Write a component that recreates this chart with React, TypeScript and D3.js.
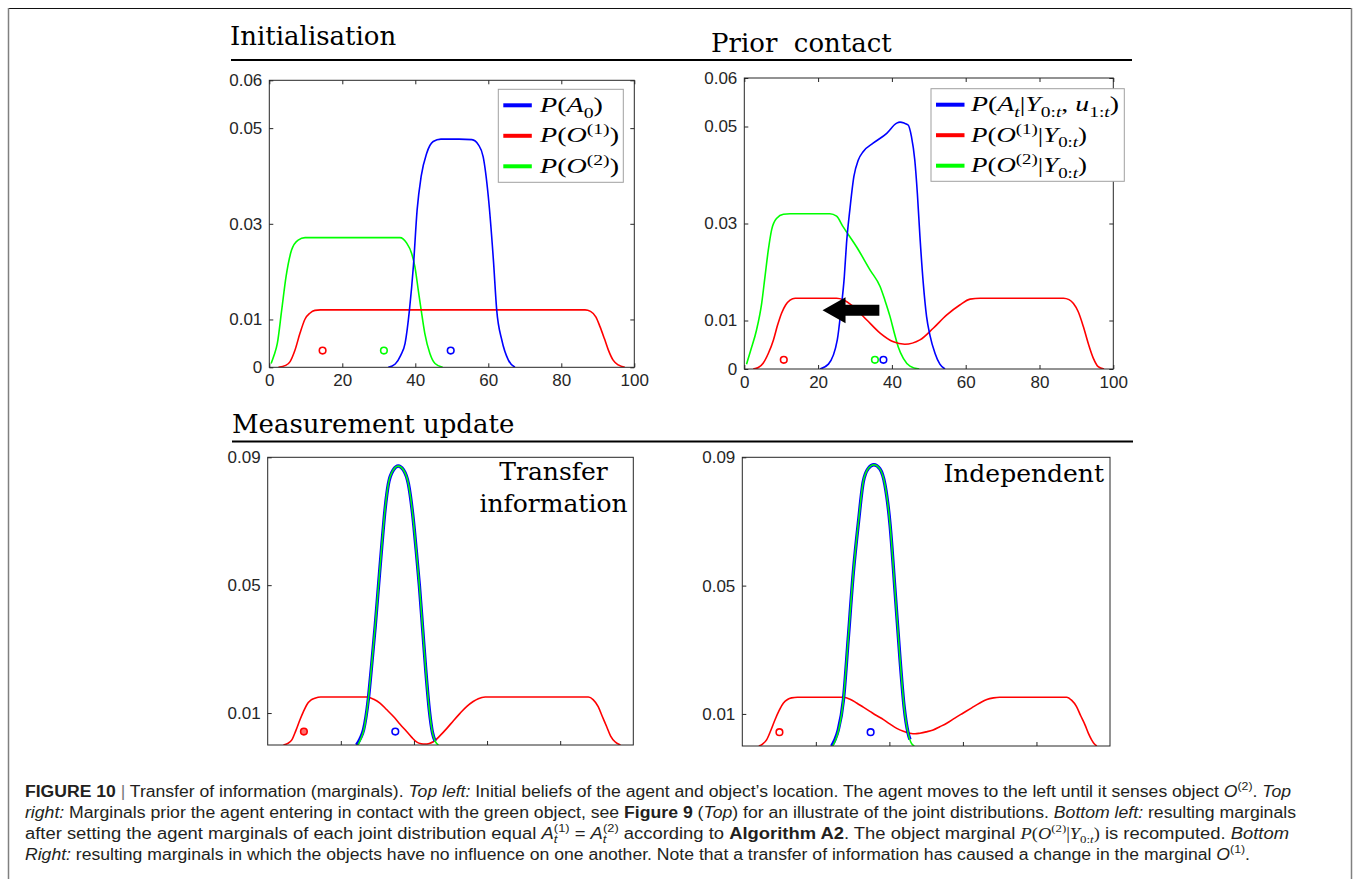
import React, { useEffect, useRef } from "react";
import * as d3 from "d3";

type Pt = [number, number];

// Initialisation (top left)
const initAgent: Pt[] = [[32.6, 0], [34.5, 0.0007], [36, 0.0025], [37.2, 0.005], [38.4, 0.012], [39.5, 0.0214], [40.5, 0.0329], [41.6, 0.0399], [43.1, 0.0447], [44.9, 0.0472], [47, 0.0477], [52, 0.0477], [55.5, 0.0476], [57.3, 0.0465], [58.6, 0.044], [60, 0.0357], [61.4, 0.0224], [62.3, 0.012], [63.7, 0.0057], [65.5, 0.0015], [67.3, 0]];
const initObj1: Pt[] = [[2.5, 0], [4.5, 0.0004], [5.7, 0.0012], [7, 0.0035], [8.4, 0.0071], [9.8, 0.0101], [11.1, 0.0113], [12.5, 0.0119], [14, 0.012], [50, 0.012], [86.5, 0.012], [88, 0.0117], [89.5, 0.0105], [90.6, 0.0085], [91.8, 0.006], [92.9, 0.0036], [94.2, 0.0015], [95.6, 0.0005], [97.4, 0]];
const initObj2: Pt[] = [[0.5, 0.0008], [1.3, 0.0025], [2.2, 0.005], [3.4, 0.012], [4.6, 0.019], [6.1, 0.0245], [7.9, 0.0266], [9.8, 0.0271], [20, 0.0271], [35.8, 0.0271], [37.6, 0.026], [39, 0.0238], [39.9, 0.021], [40.8, 0.0162], [41.6, 0.012], [42.6, 0.0071], [44, 0.0029], [45.4, 0.0008], [47.5, 0]];
const initMarkers: Pt[] = [[14.6, 0.0035], [31.4, 0.0035], [49.7, 0.0035]];

// Prior contact (top right)
const priorAgent: Pt[] = [[20.5, 0], [22.8, 0.001], [25.2, 0.006], [26.2, 0.0122], [27.1, 0.019], [27.7, 0.0259], [28.6, 0.0328], [29.7, 0.0397], [30.9, 0.0431], [32.2, 0.0448], [35, 0.0466], [38.6, 0.0486], [41.3, 0.0507], [42.2, 0.0509], [43.3, 0.0507], [44.4, 0.0503], [45.3, 0.0479], [46.2, 0.0431], [46.9, 0.0362], [47.6, 0.0273], [48.5, 0.0177], [49.4, 0.0108], [50.3, 0.007], [51.7, 0.0032], [53, 0.001], [54.4, 0]];
const priorObj1: Pt[] = [[2.4, 0], [3.8, 0.0003], [5.1, 0.0012], [6.5, 0.0032], [7.9, 0.006], [9, 0.009], [10.1, 0.0115], [11.2, 0.0132], [12.4, 0.0142], [13.8, 0.0146], [25, 0.0146], [26.8, 0.0143], [29.5, 0.0129], [33.2, 0.0101], [36.8, 0.0074], [40.4, 0.0056], [43.5, 0.0051], [47.6, 0.006], [51.2, 0.0084], [54.8, 0.0111], [58.4, 0.0132], [61.2, 0.0144], [63.9, 0.0146], [86.5, 0.0146], [88, 0.0143], [89.2, 0.0135], [90.5, 0.0118], [91.9, 0.0087], [93.2, 0.0053], [94.6, 0.0022], [95.9, 0.0005], [97.5, 0]];
const priorObj2: Pt[] = [[0.6, 0.001], [1.8, 0.004], [3.3, 0.008], [4.7, 0.0135], [5.6, 0.019], [6.5, 0.0245], [7.4, 0.0287], [8.8, 0.0311], [10.6, 0.0319], [12.4, 0.032], [23.2, 0.032], [25, 0.0315], [26.8, 0.0293], [30.4, 0.0252], [34.1, 0.0204], [36.8, 0.017], [38.1, 0.0142], [39.5, 0.0108], [40.8, 0.007], [41.7, 0.0046], [43.1, 0.0022], [44.9, 0.0006], [47.4, 0]];
const priorMarkers: Pt[] = [[10.7, 0.0019], [35.4, 0.0019], [37.7, 0.0019]];
const arrowTail: Pt = [36.6, 0.0121];
const arrowTip: Pt = [21.2, 0.0121];

// Measurement update, transfer information (bottom left)
const transferAgent: Pt[] = [[24.3, 0], [25.3, 0.002], [26.2, 0.0047], [27.5, 0.0141], [28.4, 0.0246], [29.4, 0.0371], [30.3, 0.0497], [31.2, 0.0622], [32.1, 0.0737], [33, 0.0816], [34.4, 0.0861], [35.7, 0.0873], [37.1, 0.0861], [38.5, 0.0816], [39.7, 0.0717], [40.6, 0.0612], [41.5, 0.0497], [42.4, 0.0361], [43.3, 0.0225], [44.2, 0.011], [45.1, 0.0037], [45.8, 0.0012]];
const transferObj2: Pt[] = [[24.7, 0], [25.5, 0.002], [26.3, 0.0047], [27.5, 0.0141], [28.4, 0.0246], [29.4, 0.0371], [30.3, 0.0497], [31.2, 0.0622], [32.1, 0.0737], [33, 0.0816], [34.4, 0.0861], [35.7, 0.0873], [37.1, 0.0861], [38.5, 0.0816], [39.7, 0.0717], [40.6, 0.0612], [41.5, 0.0497], [42.4, 0.0361], [43.3, 0.0225], [44.2, 0.011], [45.1, 0.0037], [45.8, 0.0012], [46.7, 0]];
const transferObj1: Pt[] = [[4.3, 0], [5.5, 0.0005], [6.6, 0.0016], [7.7, 0.0045], [8.8, 0.0078], [9.8, 0.0105], [10.7, 0.0126], [11.8, 0.014], [12.9, 0.0146], [14.5, 0.015], [27.1, 0.015], [29, 0.0143], [30.7, 0.0131], [32.5, 0.0111], [34.4, 0.0089], [36.2, 0.0065], [38, 0.0042], [39.4, 0.0024], [40.7, 0.001], [42, 0.0004], [43, 0.0003], [44.2, 0.0005], [45.3, 0.001], [47.2, 0.003], [49, 0.0052], [50.8, 0.0076], [52.6, 0.0099], [54.4, 0.012], [56.2, 0.0136], [57.6, 0.0145], [59.5, 0.015], [87.7, 0.015], [89, 0.0142], [90.4, 0.012], [91.5, 0.009], [92.7, 0.0058], [93.8, 0.0028], [95, 0.001], [96.5, 0]];
const transferMarkers: Pt[] = [[9.9, 0.0042], [34.9, 0.0042]];

// Measurement update, independent (bottom right)
const indepAgent: Pt[] = [[24.3, 0], [25.2, 0.002], [26.1, 0.005], [27.5, 0.0144], [28.8, 0.0333], [30.2, 0.0542], [31.6, 0.0699], [32.9, 0.0824], [34.3, 0.0866], [35.8, 0.0877], [37.4, 0.0864], [38.8, 0.0814], [40.2, 0.0688], [41.5, 0.049], [42.9, 0.027], [44, 0.0123], [45.1, 0.004], [45.6, 0.002]];
const indepObj2: Pt[] = [[24.6, 0], [25.4, 0.002], [26.2, 0.005], [27.5, 0.0144], [28.8, 0.0333], [30.2, 0.0542], [31.6, 0.0699], [32.9, 0.0824], [34.3, 0.0866], [35.8, 0.0877], [37.4, 0.0864], [38.8, 0.0814], [40.2, 0.0688], [41.5, 0.049], [42.9, 0.027], [44, 0.0123], [45.1, 0.004], [46, 0.0008], [46.8, 0]];
const indepObj1: Pt[] = [[4.5, 0], [5.5, 0.0006], [6.6, 0.0019], [7.8, 0.005], [8.9, 0.0082], [10, 0.011], [11.2, 0.0134], [12.3, 0.0145], [13.4, 0.015], [15, 0.0152], [27.5, 0.0152], [29.3, 0.0146], [31.1, 0.0134], [32.9, 0.0121], [34.7, 0.0108], [36.5, 0.0095], [38.4, 0.0082], [40.2, 0.0068], [42, 0.0055], [43.8, 0.0046], [45.6, 0.004], [47, 0.0038], [48.3, 0.004], [50, 0.0044], [51.9, 0.005], [53.7, 0.006], [55.6, 0.0071], [57.8, 0.0087], [60.1, 0.0103], [62.4, 0.0119], [64.6, 0.0134], [66.5, 0.0145], [68.3, 0.015], [70, 0.0152], [88.2, 0.0152], [89.6, 0.0142], [90.9, 0.0123], [92, 0.0095], [93.2, 0.0066], [94.1, 0.004], [95, 0.0019], [95.7, 0.0007], [96.4, 0]];
const indepMarkers: Pt[] = [[10.1, 0.0043], [34.9, 0.0043]];

const xTicks = [0, 20, 40, 60, 80, 100];
const innerXTicks = [20, 40, 60, 80];
const topYTicks = [0, 0.01, 0.03, 0.05, 0.06];
const bottomYTicks = [0.01, 0.05, 0.09];

const BLUE = "#0000ff";
const RED = "#ff0000";
const GREEN = "#00ff00";
const AXIS = "#262626";
const SANS = "'Liberation Sans', Arial, Helvetica, sans-serif";
const TITLE = "'DejaVu Serif', serif";
const MATH = "'Liberation Serif', 'Times New Roman', serif";

type Seg = { t: string; i?: boolean; b?: boolean; s?: "sub" | "sup"; f?: string; dx?: number; c?: string };

// appends tspans to a text element, handling sub/superscripts with dy
function rich(text: any, segs: Seg[], size: number, supK = 0.42) {
  let shift = 0;
  segs.forEach((seg) => {
    const ts = text.append("tspan").text(seg.t);
    const target = seg.s === "sub" ? size * 0.26 : seg.s === "sup" ? -size * supK : 0;
    if (target - shift !== 0) ts.attr("dy", target - shift);
    shift = target;
    if (seg.s) ts.attr("font-size", size * 0.7);
    if (seg.i) ts.attr("font-style", "italic");
    if (seg.b) ts.attr("font-weight", "bold");
    if (seg.f) ts.attr("font-family", seg.f);
    if (seg.dx) ts.attr("dx", seg.dx);
    if (seg.c) ts.attr("fill", seg.c);
  });
}

const legendInit: Seg[][] = [
  [{ t: "P", i: true }, { t: "(" }, { t: "A", i: true }, { t: "0", s: "sub" }, { t: ")" }],
  [{ t: "P", i: true }, { t: "(" }, { t: "O", i: true }, { t: "(1)", s: "sup" }, { t: ")" }],
  [{ t: "P", i: true }, { t: "(" }, { t: "O", i: true }, { t: "(2)", s: "sup" }, { t: ")" }],
];
const legendPrior: Seg[][] = [
  [{ t: "P", i: true }, { t: "(" }, { t: "A", i: true }, { t: "t", i: true, s: "sub" }, { t: "|" }, { t: "Y", i: true }, { t: "0:", s: "sub" }, { t: "t", i: true, s: "sub" }, { t: ", " }, { t: "u", i: true }, { t: "1:", s: "sub" }, { t: "t", i: true, s: "sub" }, { t: ")" }],
  [{ t: "P", i: true }, { t: "(" }, { t: "O", i: true }, { t: "(1)", s: "sup" }, { t: "|" }, { t: "Y", i: true }, { t: "0:", s: "sub" }, { t: "t", i: true, s: "sub" }, { t: ")" }],
  [{ t: "P", i: true }, { t: "(" }, { t: "O", i: true }, { t: "(2)", s: "sup" }, { t: "|" }, { t: "Y", i: true }, { t: "0:", s: "sub" }, { t: "t", i: true, s: "sub" }, { t: ")" }],
];

const captionLines: Seg[][] = [
  [{ t: "FIGURE 10", b: true }, { t: " | ", c: "#777" }, { t: "Transfer of information (marginals). " }, { t: "Top left:", i: true }, { t: " Initial beliefs of the agent and object\u2019s location. The agent moves to the left until it senses object " }, { t: "O", i: true }, { t: "(2)", s: "sup" }, { t: ". " }, { t: "Top", i: true }],
  [{ t: "right:", i: true }, { t: " Marginals prior the agent entering in contact with the green object, see " }, { t: "Figure 9", b: true }, { t: " (" }, { t: "Top", i: true }, { t: ") for an illustrate of the joint distributions. " }, { t: "Bottom left:", i: true }, { t: " resulting marginals" }],
  [{ t: "after setting the agent marginals of each joint distribution equal " }, { t: "A", i: true }, { t: "t", i: true, s: "sub" }, { t: "(1)", s: "sup", dx: -3 }, { t: " = " }, { t: "A", i: true }, { t: "t", i: true, s: "sub" }, { t: "(2)", s: "sup", dx: -3 }, { t: " according to " }, { t: "Algorithm A2", b: true }, { t: ". The object marginal " }, { t: "P", i: true, f: MATH }, { t: "(", f: MATH }, { t: "O", i: true, f: MATH }, { t: "(2)", s: "sup", f: MATH }, { t: "|", f: MATH }, { t: "Y", i: true, f: MATH }, { t: "0:", s: "sub", f: MATH }, { t: "t", i: true, s: "sub", f: MATH }, { t: ")", f: MATH }, { t: " is recomputed. " }, { t: "Bottom", i: true }],
  [{ t: "Right:", i: true }, { t: " resulting marginals in which the objects have no influence on one another. Note that a transfer of information has caused a change in the marginal " }, { t: "O", i: true }, { t: "(1)", s: "sup" }, { t: "." }],
];
const captionWidths = [1266, 1271, 1264, 1225];

function drawPanel(svg: any, p: any) {
  const x = d3.scaleLinear().domain([0, 100]).range([p.left, p.right]);
  const y = d3.scaleLinear().domain([0, p.yMax]).range([p.bottom, p.top]);
  const g = svg.append("g");

  g.append("clipPath").attr("id", "clip-" + p.id).append("rect")
    .attr("x", p.left).attr("y", p.top).attr("width", p.right - p.left).attr("height", p.bottom - p.top);

  const line = d3.line<Pt>().x((d) => x(d[0])).y((d) => y(d[1])).curve(d3.curveMonotoneX);
  const lines = g.append("g").attr("clip-path", `url(#clip-${p.id})`);
  p.series.forEach((s: any) => {
    lines.append("path").attr("d", line(s.data)).attr("fill", "none")
      .attr("stroke", s.color).attr("stroke-width", s.w).attr("stroke-linejoin", "round");
  });

  p.markers.forEach((m: Pt, i: number) => {
    g.append("circle").attr("cx", x(m[0])).attr("cy", y(m[1])).attr("r", 3.3)
      .attr("fill", p.markerFill ? p.markerFill[i] : "none")
      .attr("stroke", p.markerColors[i]).attr("stroke-width", 1.6);
  });

  if (p.arrow) {
    const ax0 = x(p.arrow[0][0]), ax1 = x(p.arrow[1][0]), ay = y(p.arrow[1][1]);
    const hl = 23, sh = 5.5, hh = 13;
    const pts = [[ax1, ay], [ax1 + hl, ay - hh], [ax1 + hl, ay - sh], [ax0, ay - sh], [ax0, ay + sh], [ax1 + hl, ay + sh], [ax1 + hl, ay + hh]];
    g.append("polygon").attr("points", pts.map((q) => q.join(",")).join(" ")).attr("fill", "black");
  }

  g.append("rect").attr("x", p.left).attr("y", p.top).attr("width", p.right - p.left).attr("height", p.bottom - p.top)
    .attr("fill", "none").attr("stroke", AXIS).attr("stroke-width", 1);

  const styleAxis = (a: any) => {
    a.select(".domain").remove();
    a.attr("font-size", 17).attr("font-family", SANS);
    a.selectAll("line").attr("stroke", AXIS);
    a.selectAll("text").attr("fill", AXIS);
  };

  const gy = g.append("g").attr("transform", `translate(${p.left},0)`)
    .call(d3.axisLeft(y).tickValues(p.yTicks).tickSize(-4).tickPadding(7).tickFormat((d: any) => String(d)));
  styleAxis(gy);

  const gx = g.append("g").attr("transform", `translate(0,${p.bottom})`)
    .call(d3.axisBottom(x).tickValues(p.xLabels ? xTicks : innerXTicks).tickSize(-4).tickPadding(7)
      .tickFormat((d: any) => (p.xLabels ? String(d) : "")));
  styleAxis(gx);

  if (p.mirror) {
    const gr = g.append("g").attr("transform", `translate(${p.right},0)`)
      .call(d3.axisRight(y).tickValues(p.yTicks).tickSize(-4).tickFormat(() => ""));
    styleAxis(gr);
    const gt = g.append("g").attr("transform", `translate(0,${p.top})`)
      .call(d3.axisTop(x).tickValues(xTicks).tickSize(-4).tickFormat(() => ""));
    styleAxis(gt);
  }

  if (p.legend) {
    const L = p.legend;
    g.append("rect").attr("x", L.x).attr("y", L.y).attr("width", L.w).attr("height", L.h)
      .attr("fill", "white").attr("stroke", "#a0a0a0").attr("stroke-width", 1);
    L.rows.forEach((segs: Seg[], i: number) => {
      const ly = L.y + 16 + i * 30.5;
      g.append("line").attr("x1", L.x + 5).attr("x2", L.x + 33.5).attr("y1", ly).attr("y2", ly)
        .attr("stroke", L.colors[i]).attr("stroke-width", 4);
      const t = g.append("text").attr("x", L.textX).attr("y", ly + 6.5)
        .attr("font-family", MATH).attr("font-size", 22).attr("fill", "black")
        .attr("textLength", L.widths[i]).attr("lengthAdjust", "spacingAndGlyphs");
      rich(t, segs, 22, 0.36);
    });
  }

  if (p.note) {
    p.note.lines.forEach((s: string, i: number) => {
      g.append("text").attr("x", p.note.x).attr("y", p.note.y + i * 31.5)
        .attr("text-anchor", p.note.anchor).attr("font-family", TITLE).attr("font-size", 25)
        .attr("fill", "black").text(s);
    });
  }
}

export default function App() {
  const ref = useRef<SVGSVGElement>(null);

  useEffect(() => {
    const svg = d3.select(ref.current);
    svg.selectAll("*").remove();

    svg.append("rect").attr("width", 1354).attr("height", 879).attr("fill", "white");

    // page frame
    svg.append("line").attr("x1", 8).attr("x2", 1352).attr("y1", 8.5).attr("y2", 8.5).attr("stroke", "#111").attr("stroke-width", 1);
    svg.append("line").attr("x1", 8.5).attr("x2", 8.5).attr("y1", 8).attr("y2", 879).attr("stroke", "#808080").attr("stroke-width", 1.5);
    svg.append("line").attr("x1", 1351.5).attr("x2", 1351.5).attr("y1", 8).attr("y2", 879).attr("stroke", "#808080").attr("stroke-width", 1.5);

    // section titles and rules
    const title = (s: string, tx: number, ty: number) =>
      svg.append("text").attr("x", tx).attr("y", ty).attr("font-family", TITLE).attr("font-size", 26)
        .attr("fill", "black").style("white-space", "pre").text(s);
    title("Initialisation", 230, 45);
    title("Prior  contact", 711, 52);
    title("Measurement update", 232, 433);
    svg.append("line").attr("x1", 231).attr("x2", 1132).attr("y1", 60).attr("y2", 60).attr("stroke", "black").attr("stroke-width", 2);
    svg.append("line").attr("x1", 232).attr("x2", 1133).attr("y1", 441.5).attr("y2", 441.5).attr("stroke", "black").attr("stroke-width", 2);

    drawPanel(svg, {
      id: "init", left: 269.3, right: 634.3, top: 80.3, bottom: 367.3, yMax: 0.06, yTicks: topYTicks,
      xLabels: true, mirror: true,
      series: [
        { data: initObj2, color: GREEN, w: 1.6 },
        { data: initObj1, color: RED, w: 1.6 },
        { data: initAgent, color: BLUE, w: 1.6 },
      ],
      markers: initMarkers, markerColors: [RED, GREEN, BLUE],
      legend: { x: 498.3, y: 89.3, w: 125, h: 93, textX: 540, rows: legendInit, colors: [BLUE, RED, GREEN], widths: [63, 79, 79] },
    });

    drawPanel(svg, {
      id: "prior", left: 744.3, right: 1113.3, top: 78, bottom: 369, yMax: 0.06, yTicks: topYTicks,
      xLabels: true, mirror: true,
      series: [
        { data: priorObj2, color: GREEN, w: 1.6 },
        { data: priorObj1, color: RED, w: 1.6 },
        { data: priorAgent, color: BLUE, w: 1.6 },
      ],
      markers: priorMarkers, markerColors: [RED, GREEN, BLUE],
      arrow: [arrowTail, arrowTip],
      legend: { x: 931, y: 88.7, w: 193.3, h: 92.6, textX: 971, rows: legendPrior, colors: [BLUE, RED, GREEN], widths: [148, 116, 116] },
    });

    drawPanel(svg, {
      id: "transfer", left: 267.7, right: 633.3, top: 457.3, bottom: 745, yMax: 0.09, yTicks: bottomYTicks,
      xLabels: false, mirror: false,
      series: [
        { data: transferObj1, color: RED, w: 1.6 },
        { data: transferAgent, color: BLUE, w: 3.4 },
        { data: transferObj2, color: GREEN, w: 1.5 },
      ],
      markers: transferMarkers, markerColors: [RED, BLUE], markerFill: ["#ff7070", "none"],
      note: { x: 553.5, y: 480, anchor: "middle", lines: ["Transfer", "information"] },
    });

    drawPanel(svg, {
      id: "indep", left: 742.3, right: 1110, top: 457.3, bottom: 746, yMax: 0.09, yTicks: bottomYTicks,
      xLabels: false, mirror: false,
      series: [
        { data: indepObj1, color: RED, w: 1.6 },
        { data: indepAgent, color: BLUE, w: 3.4 },
        { data: indepObj2, color: GREEN, w: 1.5 },
      ],
      markers: indepMarkers, markerColors: [RED, BLUE],
      note: { x: 1104, y: 481.5, anchor: "end", lines: ["Independent"] },
    });

    // caption
    captionLines.forEach((segs, i) => {
      const t = svg.append("text").attr("x", 25).attr("y", 797 + i * 21)
        .attr("font-family", SANS).attr("font-size", 16).attr("fill", "#231f20")
        .attr("textLength", captionWidths[i]).attr("lengthAdjust", "spacingAndGlyphs")
        .style("white-space", "pre");
      rich(t, segs, 16);
    });
  }, []);

  return (
    <svg
      ref={ref}
      width={1354}
      height={879}
      style={{ position: "absolute", left: 0, top: 0, display: "block" }}
    />
  );
}
